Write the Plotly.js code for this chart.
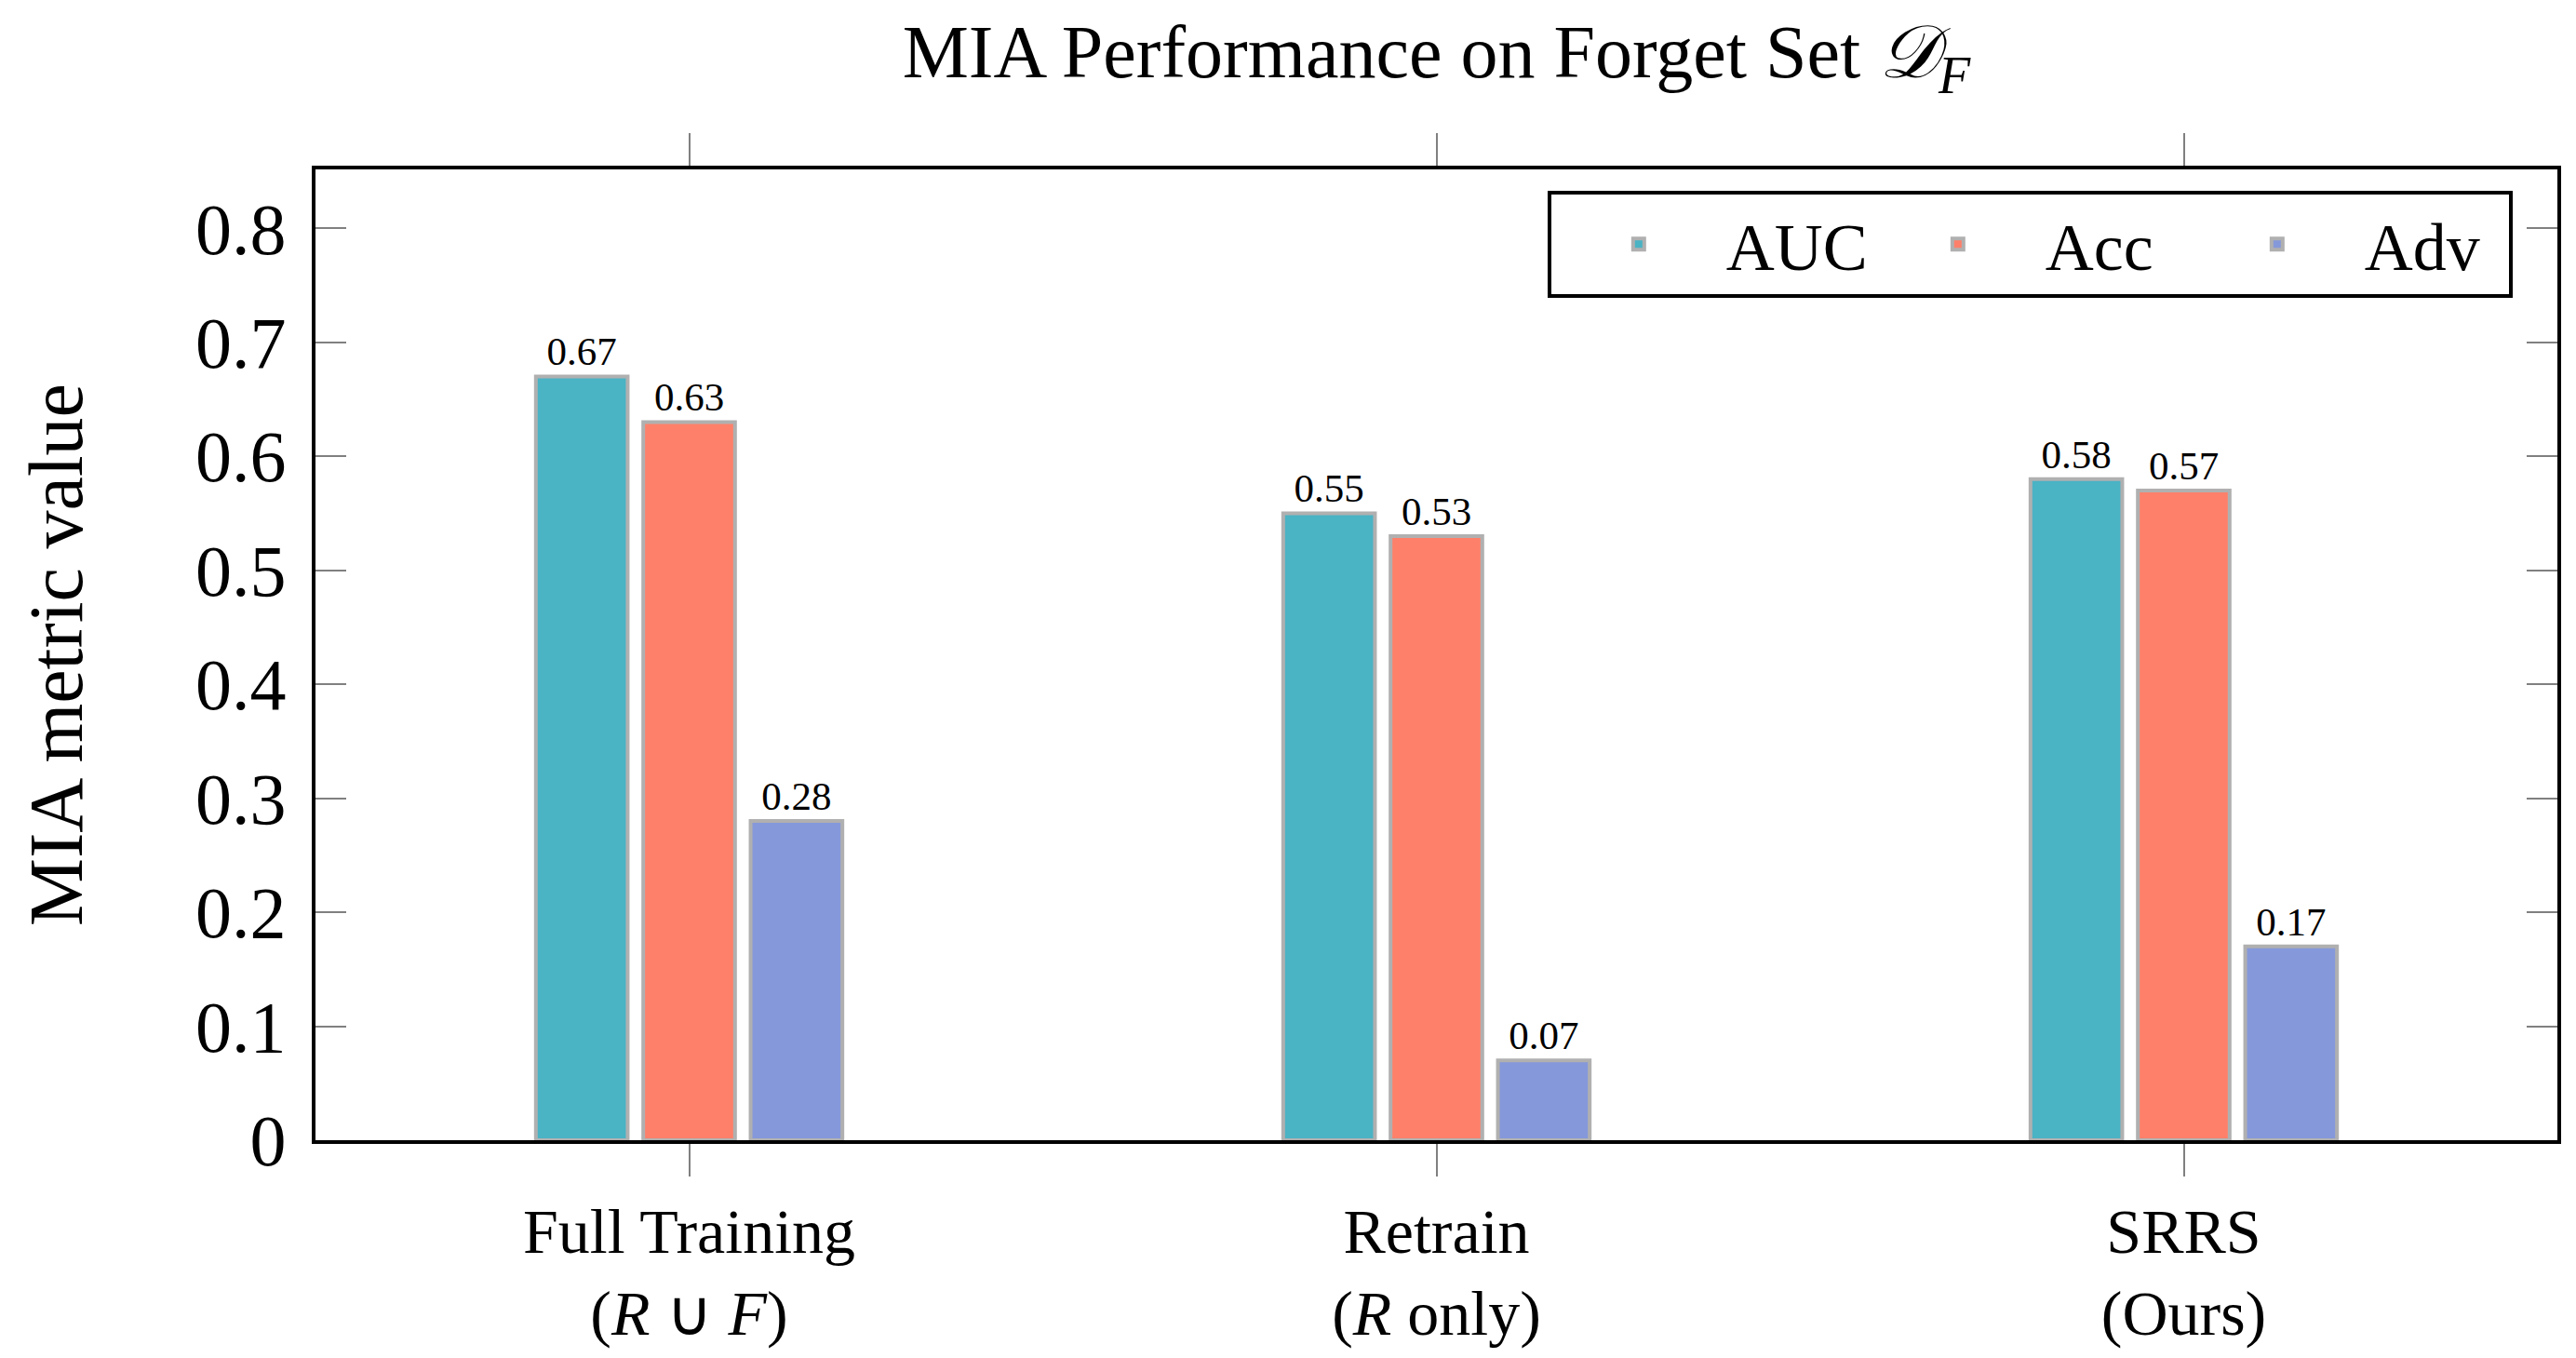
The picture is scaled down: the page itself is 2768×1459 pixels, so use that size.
<!DOCTYPE html>
<html>
<head>
<meta charset="utf-8">
<script src="https://cdn.plot.ly/plotly-3.0.1.min.js"></script>
<style>html,body{margin:0;padding:0;background:#fff;}#chart{width:2768px;height:1459px;}</style>
</head>
<body>
<div id="chart"></div>
<script>
const categories = ["Full Training<br>(<i>R</i> ∪ <i>F</i>)", "Retrain<br>(<i>R</i> only)", "SRRS<br>(Ours)"];
const seriesNames = ["AUC", "Acc", "Adv"];
const aucValues = [0.67, 0.55, 0.58];
const accValues = [0.63, 0.53, 0.57];
const advValues = [0.28, 0.07, 0.17];
const yTickVals = [0, 0.1, 0.2, 0.3, 0.4, 0.5, 0.6, 0.7, 0.8];
const yTickText = ["0", "0.1", "0.2", "0.3", "0.4", "0.5", "0.6", "0.7", "0.8"];

const colors = ["#4AB3C4", "#FF806A", "#8598DA"];
const FONT = "Liberation Serif, Times New Roman, serif";
const allValues = [aucValues, accValues, advValues];

const traces = allValues.map((vals, i) => ({
  type: "bar",
  name: seriesNames[i],
  x: categories,
  y: vals,
  marker: {color: colors[i], line: {color: "#B0B0B0", width: 4}},
  text: vals.map(v => v.toFixed(2)),
  textposition: "outside",
  constraintext: "none",
  cliponaxis: false,
  textfont: {family: FONT, size: 43, color: "#000"},
  hoverinfo: "none"
}));

const layout = {
  width: 2768, height: 1459,
  margin: {l: 339, r: 20, t: 182, b: 234},
  paper_bgcolor: "#fff", plot_bgcolor: "#fff",
  font: {family: FONT, color: "#000"},
  barmode: "group",
  bargap: 0.569,
  bargroupgap: 0.145,
  title: {
    text: "MIA Performance on Forget Set <i>𝒟</i><sub><i>F</i></sub>",
    font: {family: FONT, size: 80, color: "#000"},
    x: 0.5, xref: "paper", xanchor: "center",
    y: 0.962, yref: "container", yanchor: "middle"
  },
  xaxis: {
    type: "category",
    range: [-0.5, 2.5],
    showline: true, linecolor: "#000", linewidth: 4, mirror: "ticks",
    ticks: "outside", ticklen: 35, tickwidth: 2, tickcolor: "#808080",
    tickfont: {family: FONT, size: 68, color: "#000"},
    showgrid: false, zeroline: false, layer: "below traces"
  },
  yaxis: {
    range: [0, 0.8516],
    tickvals: yTickVals, ticktext: yTickText,
    showline: true, linecolor: "#000", linewidth: 4, mirror: "ticks",
    ticks: "inside", ticklen: 33, tickwidth: 2, tickcolor: "#808080",
    tickfont: {family: FONT, size: 78, color: "#000"},
    ticklabelstandoff: 12,
    showgrid: false, zeroline: false,
    title: {text: "MIA metric value", font: {family: FONT, size: 82, color: "#000"}, standoff: 95}
  },
  legend: {
    orientation: "h",
    x: 0.980, xanchor: "right", y: 0.978, yanchor: "top",
    bgcolor: "#fff", bordercolor: "#000", borderwidth: 4,
    font: {family: FONT, size: 72, color: "#000"},
    itemwidth: 178,
    entrywidth: 150,
    traceorder: "normal"
  },
  showlegend: true
};

Plotly.newPlot("chart", traces, layout, {displayModeBar: false, staticPlot: true});
</script>
</body>
</html>
